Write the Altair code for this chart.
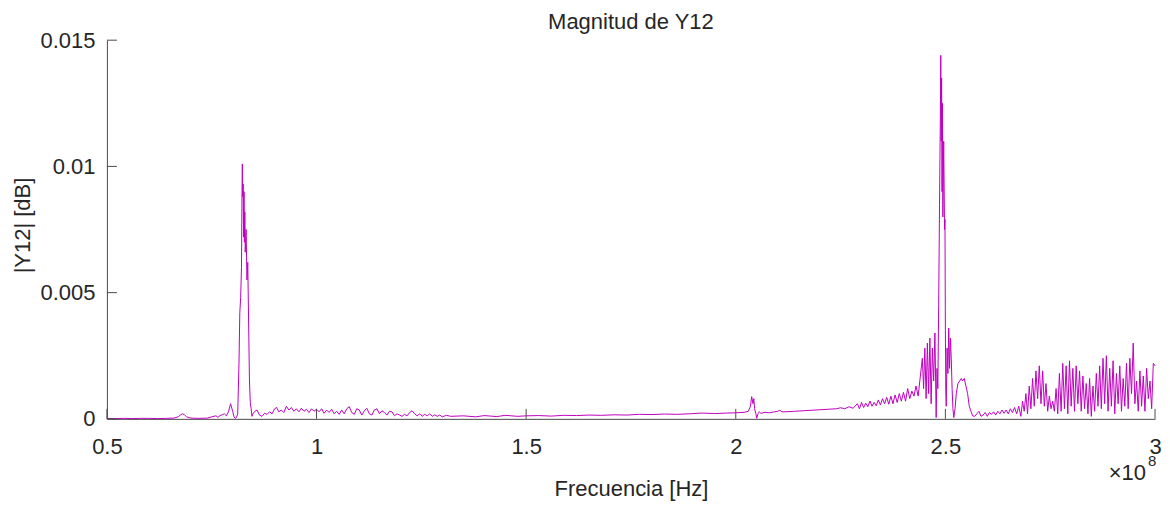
import altair as alt
import pandas as pd

# Frequency in units of 1e8 Hz, magnitude |Y12|
freq = [
    0.50, 0.52, 0.54, 0.56, 0.58, 0.60, 0.62, 0.64, 0.66, 0.67, 0.675, 0.68, 0.685, 0.69,
    0.70, 0.72, 0.74, 0.75, 0.76, 0.765, 0.77, 0.775, 0.78, 0.785, 0.79, 0.795, 0.80,
    0.803, 0.806, 0.809, 0.812, 0.815, 0.817, 0.819, 0.821, 0.822, 0.823, 0.824, 0.825,
    0.826, 0.827, 0.828, 0.829, 0.830, 0.832, 0.834, 0.836, 0.838, 0.840, 0.842, 0.844,
    0.846, 0.848, 0.853, 0.858, 0.864, 0.870, 0.876, 0.882, 0.888, 0.894, 0.900, 0.905,
    0.910, 0.916, 0.922, 0.928, 0.934, 0.940, 0.946, 0.952, 0.958, 0.964, 0.970, 0.976,
    0.982, 0.988, 0.994, 1.000, 1.006, 1.012, 1.018, 1.024, 1.030, 1.036, 1.042, 1.048,
    1.054, 1.060, 1.066, 1.072, 1.078, 1.084, 1.090, 1.096, 1.102, 1.108, 1.114, 1.120,
    1.126, 1.132, 1.138, 1.144, 1.150, 1.156, 1.162, 1.168, 1.174, 1.180, 1.186, 1.192,
    1.198, 1.204, 1.210, 1.216, 1.222, 1.228, 1.234, 1.240, 1.246, 1.252, 1.258, 1.264,
    1.270, 1.276, 1.282, 1.288, 1.294, 1.300, 1.310, 1.320,
    1.35, 1.38, 1.40, 1.43, 1.45, 1.48, 1.50, 1.53, 1.56, 1.59, 1.62, 1.65, 1.68, 1.71,
    1.74, 1.77, 1.80, 1.83, 1.86, 1.89, 1.92, 1.95, 1.98, 2.00, 2.02, 2.03,
    2.035, 2.038, 2.041, 2.043, 2.045, 2.048, 2.050, 2.053, 2.056, 2.06, 2.07, 2.08, 2.09,
    2.10, 2.105, 2.11, 2.12, 2.14, 2.16, 2.18, 2.20, 2.22, 2.24, 2.25, 2.26, 2.27, 2.28,
    2.29, 2.295, 2.30, 2.305, 2.31, 2.315, 2.32, 2.325, 2.33, 2.335, 2.34, 2.345, 2.35,
    2.355, 2.36, 2.365, 2.37, 2.375, 2.38, 2.385, 2.39, 2.395, 2.40, 2.405, 2.41, 2.415,
    2.42, 2.425, 2.43, 2.435,
    2.445, 2.448, 2.451, 2.454, 2.457, 2.460, 2.463, 2.466, 2.469, 2.472, 2.475, 2.478,
    2.480, 2.482, 2.484, 2.486, 2.488, 2.489, 2.490, 2.491, 2.492, 2.493, 2.494, 2.496,
    2.498, 2.499, 2.500, 2.501, 2.502, 2.504, 2.506, 2.508, 2.510, 2.512, 2.514, 2.516,
    2.518, 2.520, 2.523, 2.526, 2.530, 2.534, 2.538, 2.541, 2.545, 2.549, 2.553, 2.557,
    2.561, 2.565, 2.570, 2.575, 2.580, 2.585, 2.590, 2.595, 2.600, 2.605, 2.610, 2.615,
    2.620, 2.625, 2.630, 2.635, 2.640, 2.645, 2.650, 2.655, 2.660, 2.665, 2.670, 2.675,
    2.680, 2.684, 2.688, 2.692, 2.696, 2.700, 2.704, 2.708, 2.712, 2.716, 2.720, 2.724,
    2.728, 2.732, 2.736, 2.740, 2.744, 2.748, 2.752, 2.756, 2.760,
    2.764, 2.768, 2.772, 2.776, 2.780, 2.784, 2.788, 2.792, 2.796, 2.800, 2.804, 2.808,
    2.812, 2.816, 2.820, 2.824, 2.828, 2.832, 2.836, 2.840, 2.844, 2.848, 2.852, 2.856,
    2.860, 2.864, 2.868, 2.872, 2.876, 2.880, 2.884, 2.888, 2.892, 2.896, 2.900, 2.904,
    2.908, 2.912, 2.916, 2.920, 2.924, 2.928, 2.932, 2.936, 2.940, 2.944, 2.948, 2.952,
    2.956, 2.960, 2.964, 2.968, 2.972, 2.976, 2.980, 2.984, 2.988, 2.992, 2.996, 3.000,
]

mag = [
    0.00002, 0.00001, 0.00002, 0.00001, 0.00002, 0.00002, 0.00001, 0.00002, 0.00003, 0.00008, 0.00015, 0.00020, 0.00016, 0.00008,
    0.00003, 0.00002, 0.00003, 0.00008, 0.00012, 0.00006, 0.00013, 0.00016, 0.00020, 0.00012, 0.00028, 0.00060, 0.00030,
    0.00008, 0.00002, 0.00005, 0.00020, 0.00220, 0.00420, 0.00480, 0.00600, 0.00850, 0.01010, 0.00880, 0.00930,
    0.00720, 0.00900, 0.00700, 0.00820, 0.00660, 0.00750, 0.00550, 0.00620, 0.00380, 0.00150, 0.00065, 0.00040,
    0.00010, 0.00020, 0.00030, 0.00035, 0.00015, 0.00010, 0.00022, 0.00018, 0.00028, 0.00020, 0.00040, 0.00045,
    0.00028, 0.00035, 0.00025, 0.00050, 0.00035, 0.00045, 0.00030, 0.00040, 0.00028, 0.00042, 0.00030, 0.00038,
    0.00025, 0.00040, 0.00030, 0.00038, 0.00028, 0.00040, 0.00022, 0.00035, 0.00025, 0.00038, 0.00020, 0.00030,
    0.00018, 0.00035, 0.00020, 0.00040, 0.00048, 0.00025, 0.00018, 0.00040, 0.00035, 0.00015, 0.00032, 0.00042,
    0.00020, 0.00015, 0.00035, 0.00040, 0.00020, 0.00032, 0.00025, 0.00015, 0.00030, 0.00028, 0.00012, 0.00020,
    0.00015, 0.00010, 0.00018, 0.00012, 0.00025, 0.00032, 0.00020, 0.00012, 0.00020, 0.00010, 0.00018, 0.00012,
    0.00020, 0.00010, 0.00016, 0.00010, 0.00015, 0.00008, 0.00014, 0.00010,
    0.00012, 0.00008, 0.00013, 0.00009, 0.00014, 0.00010, 0.00012, 0.00013, 0.00011, 0.00014, 0.00013, 0.00015, 0.00014, 0.00016,
    0.00015, 0.00018, 0.00017, 0.00019, 0.00018, 0.00020, 0.00023, 0.00021, 0.00023, 0.00024, 0.00026, 0.00030,
    0.00050, 0.00088, 0.00060, 0.00080, 0.00040, 0.00020, 0.00002, 0.00020, 0.00028, 0.00022, 0.00026, 0.00024, 0.00027,
    0.00030, 0.00034, 0.00028, 0.00028, 0.00030, 0.00032, 0.00034, 0.00036, 0.00038, 0.00040, 0.00044, 0.00040, 0.00048, 0.00042,
    0.00060, 0.00040, 0.00065, 0.00045, 0.00062, 0.00048, 0.00070, 0.00050, 0.00065, 0.00052, 0.00075, 0.00055, 0.00080,
    0.00060, 0.00085, 0.00058, 0.00090, 0.00060, 0.00095, 0.00065, 0.00100, 0.00070, 0.00105, 0.00070, 0.00120, 0.00080,
    0.00110, 0.00090, 0.00130, 0.00090,
    0.00240, 0.00120, 0.00280, 0.00080, 0.00300, 0.00100, 0.00320, 0.00060, 0.00280, 0.00150, 0.00340, 0.00005,
    0.00200, 0.00120, 0.00450, 0.00850, 0.01200, 0.01440, 0.01100, 0.01350, 0.00900, 0.01250, 0.00800, 0.01100,
    0.00750, 0.00790, 0.00350, 0.00110, 0.00050, 0.00280, 0.00180, 0.00360, 0.00200, 0.00320, 0.00240, 0.00120,
    0.00040, 0.00005, 0.00040, 0.00100, 0.00140, 0.00150, 0.00160, 0.00150, 0.00160, 0.00130, 0.00100, 0.00050,
    0.00030, 0.00012, 0.00010, 0.00020, 0.00030, 0.00010, 0.00015, 0.00025, 0.00010, 0.00025, 0.00018, 0.00028,
    0.00015, 0.00030, 0.00020, 0.00035, 0.00022, 0.00035, 0.00020, 0.00040, 0.00025, 0.00045, 0.00020, 0.00050,
    0.00010, 0.00070, 0.00030, 0.00100, 0.00020, 0.00130, 0.00040, 0.00160, 0.00050, 0.00190, 0.00080, 0.00210,
    0.00060, 0.00190, 0.00050, 0.00140, 0.00030, 0.00090, 0.00040, 0.00070, 0.00030,
    0.00120, 0.00020, 0.00180, 0.00030, 0.00220, 0.00040, 0.00210, 0.00020, 0.00230, 0.00050, 0.00200, 0.00030,
    0.00210, 0.00060, 0.00190, 0.00030, 0.00170, 0.00040, 0.00140, 0.00020, 0.00160, 0.00010, 0.00130, 0.00030,
    0.00180, 0.00050, 0.00210, 0.00040, 0.00240, 0.00060, 0.00250, 0.00030, 0.00200, 0.00050, 0.00230, 0.00020,
    0.00180, 0.00060, 0.00210, 0.00030, 0.00160, 0.00050, 0.00220, 0.00040, 0.00240, 0.00100, 0.00300, 0.00060,
    0.00150, 0.00030, 0.00190, 0.00050, 0.00170, 0.00030, 0.00200, 0.00080, 0.00150, 0.00040, 0.00220, 0.00210,
]

x_ticks = [0.5, 1, 1.5, 2, 2.5, 3]
y_ticks = [0, 0.005, 0.01, 0.015]
title_text = ["Magnitud de Y12"]
exponent_base = ["×10"]
exponent_power = ["8"]

W, H = 1049, 379
FONT = "Liberation Sans"
TXT = "#262626"
AX = "#4a4a4a"

df = pd.DataFrame({"freq": freq, "mag": mag})
xs = alt.Scale(domain=[0.5, 3], nice=False, zero=False)
ys = alt.Scale(domain=[0, 0.015], nice=False, zero=False)

x_axis = alt.Axis(values=x_ticks, labelExpr="toString(datum.value)", grid=False, ticks=False,
                  tickSize=0, labelPadding=18, labelFontSize=22, labelFont=FONT, labelColor=TXT,
                  domainColor=AX, domainWidth=1, titleFont=FONT, titleFontSize=22,
                  titleFontWeight="normal", titleColor=TXT, titleBaseline="alphabetic",
                  titleX=W / 2, titleY=77, titleAnchor="middle", labelFlush=False)
y_axis = alt.Axis(values=y_ticks, labelExpr="toString(datum.value)", grid=False, ticks=False,
                  tickSize=0, labelPadding=12, labelFontSize=22, labelFont=FONT, labelColor=TXT,
                  domainColor=AX, domainWidth=1, titleFont=FONT, titleFontSize=22,
                  titleFontWeight="normal", titleColor=TXT, titleBaseline="middle",
                  titleX=-84, titleY=185, titleAngle=-90, labelFlush=False)

X = alt.X("freq:Q", scale=xs, title="Frecuencia [Hz]", axis=x_axis)
Y = alt.Y("mag:Q", scale=ys, title="|Y12| [dB]", axis=y_axis)

line = alt.Chart(df).mark_line(color="#c000c0", strokeWidth=1).encode(x=X, y=Y)

xt = alt.Chart(pd.DataFrame({"freq": x_ticks})).mark_rule(color=AX, strokeWidth=1).encode(
    x=X, y=alt.value(H), y2=alt.value(H - 10)
)
yt = alt.Chart(pd.DataFrame({"mag": y_ticks})).mark_rule(color=AX, strokeWidth=1).encode(
    y=Y, x=alt.value(0), x2=alt.value(10)
)

title = alt.Chart(pd.DataFrame({"t": title_text})).mark_text(
    font=FONT, fontSize=22, color=TXT, align="center", baseline="alphabetic"
).encode(text="t:N", x=alt.value(W / 2), y=alt.value(-11))

exp_base = alt.Chart(pd.DataFrame({"t": exponent_base})).mark_text(
    font=FONT, fontSize=22, color=TXT, align="right", baseline="alphabetic"
).encode(text="t:N", x=alt.value(1040), y=alt.value(440))
exp_sup = alt.Chart(pd.DataFrame({"t": exponent_power})).mark_text(
    font=FONT, fontSize=15, color=TXT, align="left", baseline="alphabetic"
).encode(text="t:N", x=alt.value(1042), y=alt.value(426))

chart = alt.layer(line, xt, yt, title, exp_base, exp_sup).properties(
    width=W, height=H,
    background="white",
    autosize=alt.AutoSizeParams(type="none"),
    padding={"left": 99, "top": 32, "right": 7, "bottom": 82},
).configure_view(strokeWidth=0, stroke="transparent")

chart.save("out.html", embed_options={"renderer": "svg", "actions": False})
